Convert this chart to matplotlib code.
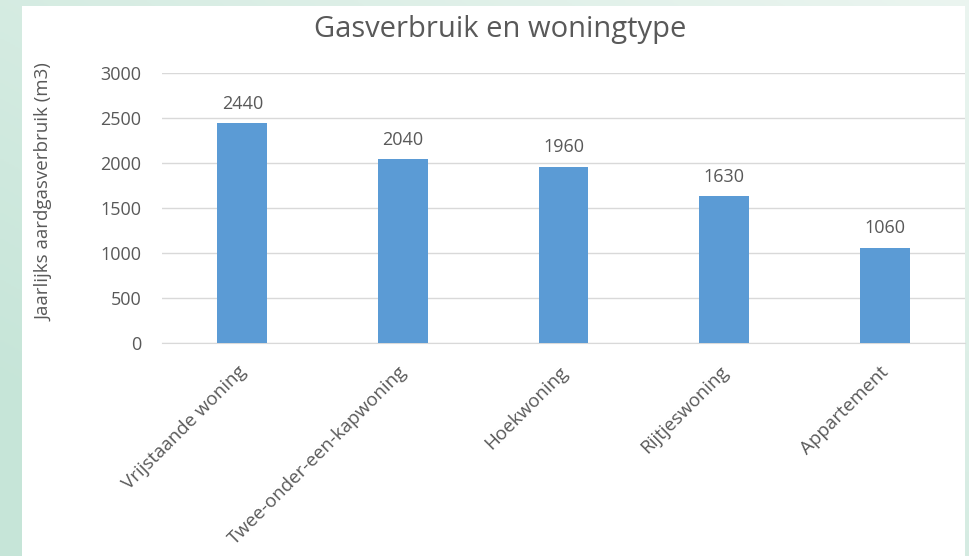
import numpy as np
import matplotlib.pyplot as plt
import matplotlib.transforms as mtransforms
from matplotlib.patches import Rectangle

categories = ["Vrijstaande woning", "Twee-onder-een-kapwoning", "Hoekwoning",
              "Rijtjeswoning", "Appartement"]
values = [2440, 2040, 1960, 1630, 1060]
yticks = [0, 500, 1000, 1500, 2000, 2500, 3000]

plt.rcParams['font.family'] = ['Open Sans', 'DejaVu Sans']
grey = '#595959'

fig = plt.figure(figsize=(9.69, 5.56), dpi=100)

# achtergrond met lichte groene gradient
bg = fig.add_axes([0, 0, 1, 1], zorder=-10)
gx = np.linspace(0, 1, 200)
gy = np.linspace(0, 1, 200)
X, Y = np.meshgrid(gx, gy)
t = np.clip(0.6 * (1 - X) + 0.6 * Y, 0, 1)
c0 = np.array([0.92, 0.96, 0.94])
c1 = np.array([0.78, 0.90, 0.85])
img = c0[None, None, :] * (1 - t[..., None]) + c1[None, None, :] * t[..., None]
bg.imshow(img, extent=[0, 1, 0, 1], aspect='auto', origin='upper')
bg.add_patch(Rectangle((22 / 969, 0), (965 - 22) / 969, 1 - 6 / 556,
                       facecolor='white', edgecolor='none'))
bg.set_xlim(0, 1)
bg.set_ylim(0, 1)
bg.axis('off')

ax = fig.add_axes([162 / 969, 1 - 343 / 556, (965 - 162) / 969, (343 - 73) / 556])
ax.set_facecolor('none')
x = np.arange(len(categories))
bars = ax.bar(x, values, width=0.31, color='#5B9BD5', zorder=3)
ax.set_xlim(-0.5, len(categories) - 0.5)
ax.set_ylim(0, 3000)
ax.set_yticks(yticks)
ax.grid(axis='y', color='#d9d9d9', linewidth=1, zorder=0)
for s in ['top', 'right', 'left']:
    ax.spines[s].set_visible(False)
ax.spines['bottom'].set_color('#d9d9d9')
ax.tick_params(length=0, colors=grey, labelsize=13)
ax.tick_params(axis='y', pad=15)

for b, v in zip(bars, values):
    ax.text(b.get_x() + b.get_width() / 2, v + 115, str(v), ha='center', va='bottom',
            fontsize=13, color=grey)

ax.set_xticks(x)
labels = ax.set_xticklabels(categories, rotation=45, ha='right', va='top',
                            rotation_mode='anchor', fontsize=13.5)
offset = mtransforms.ScaledTranslation(-0.05, -0.15, fig.dpi_scale_trans)
for lab in labels:
    lab.set_transform(lab.get_transform() + offset)

fig.text(45 / 969, 1 - 192 / 556, "Jaarlijks aardgasverbruik (m3)", rotation=90,
         ha='center', va='center', fontsize=13.5, color=grey)
fig.text(500 / 969, 1 - 30 / 556, "Gasverbruik en woningtype", ha='center', va='center',
         fontsize=21, color=grey)

fig.savefig('out.png', dpi=100)
